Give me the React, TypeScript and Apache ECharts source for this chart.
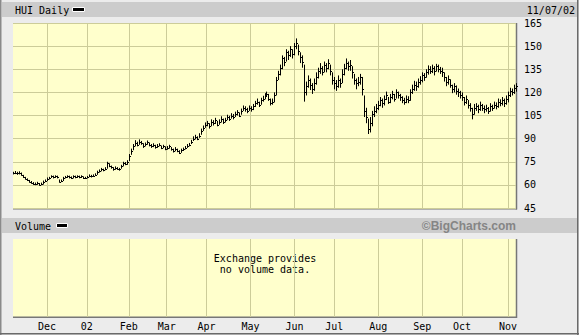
import React, { useEffect, useRef } from "react";
import * as echarts from "echarts";

// Trading-day indices where each month begins, with their labels
const monthStarts = [17, 37, 58, 77, 97, 119, 141, 161, 183, 205, 225, 248];
const monthLabels = ["Dec", "02", "Feb", "Mar", "Apr", "May", "Jun", "Jul", "Aug", "Sep", "Oct", "Nov"];

const yTicks = { min: 45, max: 165, interval: 15 };

const closes = [
  67.5, 68, 67.5, 68, 66.5, 65, 64, 63, 62, 61.5,
  60.5, 60.5, 61, 60, 60.5, 62, 62.5, 64, 64.5, 65.5,
  65, 65.5, 65, 62, 62.5, 64.5, 65, 65.5, 65, 64.5,
  65.5, 65, 65.5, 65, 65.5, 64.5, 64.5, 65, 66, 65.5,
  66, 66.5, 68.5, 69, 70, 69.5, 70.5, 74, 72, 71.5,
  70, 71, 70.5, 70, 72, 74, 73.5, 75, 79, 82,
  85, 87, 86, 88, 87, 85, 86.5, 87.5, 86, 85,
  86, 84.5, 85.5, 86, 84, 85, 83.5, 84, 85, 83,
  82, 83.5, 82, 81, 82.5, 83, 84, 85.5, 86, 88,
  90, 91, 90, 92, 95, 97, 99, 100, 98, 101,
  100, 102, 99, 101, 103, 101, 102, 104, 103, 105,
  104, 106, 107, 105, 108, 110, 109, 108, 110, 109,
  111, 113, 114, 112, 115, 116, 118, 119, 116, 113,
  114, 118, 128, 132, 136, 142, 140, 146, 144, 148,
  145, 150, 152, 147, 143, 140, 120, 124, 128, 125,
  122, 126, 130, 134, 136, 133, 138, 136, 139, 134,
  128, 126, 124, 128, 126, 132, 136, 139, 137, 138,
  133, 128, 126, 127, 130, 122, 108, 104, 96, 100,
  106, 108, 110, 112, 115, 113, 116, 118, 114, 117,
  119, 116, 120, 118, 117, 115, 114, 116, 115, 120,
  122, 125, 124, 127, 128, 131, 130, 133, 135, 134,
  136, 134, 137, 135, 134, 133, 130, 127, 129, 125,
  122, 124, 121, 120, 118, 117, 114, 116, 112, 110,
  106, 110, 111, 109, 112, 110, 109, 110, 108, 111,
  110, 112, 111, 114, 113, 115, 113, 116, 118, 121,
  120, 123, 124,
];

const highs = [
  68.5, 69, 68.5, 68.8, 68, 66.5, 65.2, 64.2, 63.2, 62.5,
  61.8, 61.5, 62, 61.2, 61.5, 62.8, 63.5, 64.8, 65.2, 66.2,
  66, 66.2, 66, 63.5, 63.5, 65.2, 65.8, 66.2, 66, 65.5,
  66.2, 66, 66.2, 66, 66.2, 65.5, 65.2, 65.8, 66.8, 66.5,
  66.8, 67.5, 69.2, 70, 71, 70.5, 71.5, 75, 74, 72.5,
  71.5, 72, 71.5, 71, 73, 75, 74.8, 76, 80, 83.5,
  86.5, 89, 88, 89.5, 88.5, 87, 87.5, 88.8, 87.5, 86.5,
  87, 86, 86.5, 87, 85.5, 86, 85, 85.2, 86, 84.5,
  83.5, 84.5, 83.5, 82.5, 83.5, 84.2, 85.2, 86.5, 87.2, 89.2,
  91.5, 92.5, 91.5, 93.5, 96.5, 98.5, 100.5, 101.5, 100, 102.5,
  102, 103.5, 101.5, 102.5, 104.5, 103, 103.5, 105.5, 104.8, 106.5,
  106, 107.5, 108.5, 107, 109.5, 111.5, 111, 110, 111.5, 111,
  112.5, 114.5, 116, 114, 116.5, 117.8, 119.5, 120.5, 119, 116,
  116, 120, 130, 134, 138, 144, 143, 148, 147, 150,
  148, 152, 155, 151, 146, 144, 138, 127, 131, 129,
  126, 129, 133, 136, 139, 137, 140, 139, 141.5, 138,
  133, 130, 128, 131, 129, 135, 138.5, 142, 140, 141,
  137, 132, 129, 130, 132, 130, 118, 110, 103, 104,
  108, 111, 112.5, 114.5, 117, 116, 118, 120.5, 117, 119,
  121, 119, 122, 120.5, 119, 117.5, 116.5, 118, 117.5, 122,
  125, 127.5, 127, 129, 130.5, 133, 132.5, 135, 137.5, 137,
  138, 137, 138.5, 138, 136.5, 136, 133, 130, 131, 128.5,
  125, 126, 124.5, 122.5, 121, 120, 117, 118, 115, 113,
  110, 112.5, 113, 112, 114, 112.5, 111.5, 112, 110.5, 113,
  112, 114, 113.5, 116, 115.5, 117, 116, 118, 120.5, 123,
  122.5, 125, 126,
];

const lows = [
  66.8, 67, 66.5, 66.8, 66, 64.5, 63.5, 62.5, 61.5, 60.8,
  60, 59.8, 60, 59.5, 59.8, 60.2, 61.8, 62.5, 63.5, 64.5,
  64.2, 64.5, 64.2, 61.5, 61.8, 62.5, 64.2, 64.5, 64.2, 63.8,
  64.2, 64.3, 64.5, 64.3, 64.5, 63.8, 63.8, 64.2, 65, 64.8,
  65.2, 65.8, 66.5, 68, 68.8, 68.8, 69.5, 70.5, 71.5, 70.5,
  69.2, 69.8, 69.8, 69.2, 70.5, 72, 72.8, 73, 75.5, 79.5,
  82.5, 85, 85, 86, 86, 84, 85, 86, 85, 84,
  84.5, 83.5, 84, 85, 83.2, 83.8, 82.5, 82.8, 83.5, 82.2,
  81, 81.8, 81.2, 80, 80.8, 82, 83, 84, 85, 86.5,
  88.5, 89.5, 89, 90.5, 92.5, 95, 97, 98, 96.5, 98,
  98.5, 99.5, 98, 99, 100.5, 99.5, 100.5, 102, 101.5, 103,
  102.5, 104, 105, 104, 105.5, 108, 107.5, 106.5, 108, 107.5,
  108.5, 110.5, 112, 110.5, 112, 114, 115.5, 117, 114.5, 111.5,
  112, 113.5, 118, 128, 131, 135, 137, 140, 141, 143,
  142, 144, 148, 144, 139, 136, 114, 118, 123, 121.5,
  119, 121, 125, 129, 132, 131, 133, 133, 135, 131,
  125, 122, 121, 123, 123, 126, 131, 135, 134, 134,
  129, 125, 122, 124, 125, 118, 104, 100, 93, 94,
  98, 104, 106.5, 108.5, 111, 110, 111.5, 115, 112.5, 113,
  115.5, 114, 116, 116, 114.5, 113, 112, 113, 113, 114.5,
  119, 121, 121, 123, 125, 126.5, 127.5, 129.5, 131.5, 132,
  132.5, 131, 133.5, 133, 132, 130, 127, 124, 125, 123,
  119.5, 120, 118.5, 117, 116, 114.5, 111.5, 112.5, 109.5, 107.5,
  102.5, 105.5, 108, 106.5, 108, 108, 106.5, 107.5, 106, 107.5,
  108, 109.5, 109, 110, 111, 111.5, 110.5, 112, 113.5, 117,
  118, 119, 120.5,
];

const MONO = "'DejaVu Sans Mono', monospace";
const GRID_COLOR = "#cccc99";
const PLOT_BG = "#ffffcc";

export default function App() {
  const ref = useRef<HTMLDivElement>(null);

  useEffect(() => {
    if (!ref.current) return;
    const chart = echarts.init(ref.current, undefined, { renderer: "svg" });

    const dayIndex = closes.map((_, i) => String(i));
    const barData = closes.map((c, i) => [i, highs[i], lows[i], c]);
    const isMonthStart = (i: number) => monthStarts.indexOf(i) >= 0;

    const xBase = {
      type: "category",
      data: dayIndex,
      boundaryGap: false,
      axisLine: { show: false },
      axisTick: { show: false },
      splitLine: { show: true, interval: (i: number) => isMonthStart(i), lineStyle: { color: GRID_COLOR, width: 1 } },
    };

    const option: any = {
      animation: false,
      backgroundColor: "#ececec",
      textStyle: { fontFamily: MONO },
      grid: [
        { left: 13, top: 23, width: 503, height: 185, show: true, backgroundColor: PLOT_BG, borderWidth: 0 },
        { left: 13, top: 239, width: 503, height: 78, show: true, backgroundColor: PLOT_BG, borderWidth: 0 },
      ],
      xAxis: [
        { ...xBase, gridIndex: 0, axisLabel: { show: false } },
        {
          ...xBase,
          gridIndex: 1,
          axisLabel: {
            show: true,
            interval: (i: number) => isMonthStart(i),
            formatter: (v: string) => {
              const k = monthStarts.indexOf(Number(v));
              return k >= 0 ? monthLabels[k] : "";
            },
            color: "#000",
            fontFamily: MONO,
            fontSize: 10,
            margin: 4,
          },
        },
      ],
      yAxis: [
        {
          type: "value",
          gridIndex: 0,
          position: "right",
          min: yTicks.min,
          max: yTicks.max,
          interval: yTicks.interval,
          axisLine: { show: false },
          axisTick: { show: false },
          axisLabel: { color: "#000", fontFamily: MONO, fontSize: 10, margin: 8 },
          splitLine: { show: true, lineStyle: { color: GRID_COLOR, width: 1 } },
        },
        { type: "value", gridIndex: 1, min: 0, max: 1, show: false, splitLine: { show: false } },
      ],
      series: [
        {
          type: "custom",
          xAxisIndex: 0,
          yAxisIndex: 0,
          data: barData,
          encode: { x: 0, y: [1, 2, 3] },
          renderItem: (params: any, api: any) => {
            const i = api.value(0);
            const hi = api.coord([i, api.value(1)]);
            const lo = api.coord([i, api.value(2)]);
            const cl = api.coord([i, api.value(3)]);
            const x = Math.round(hi[0]) + 0.5;
            const cy = Math.round(cl[1]) + 0.5;
            return {
              type: "group",
              children: [
                { type: "line", shape: { x1: x, y1: hi[1], x2: x, y2: lo[1] }, style: { stroke: "#000", lineWidth: 1 } },
                { type: "line", shape: { x1: x, y1: cy, x2: x + 1.5, y2: cy }, style: { stroke: "#000", lineWidth: 1 } },
              ],
            };
          },
        },
      ],
      graphic: [
        // outer frame
        { type: "line", shape: { x1: 0.75, y1: 0, x2: 0.75, y2: 335 }, style: { stroke: "#8a8a8a", lineWidth: 1.5 } },
        { type: "line", shape: { x1: 577.75, y1: 0, x2: 577.75, y2: 335 }, style: { stroke: "#6a6a6a", lineWidth: 1.5 } },
        { type: "line", shape: { x1: 0, y1: 333.75, x2: 579, y2: 333.75 }, style: { stroke: "#6a6a6a", lineWidth: 1.5 } },
        // header band
        { type: "rect", shape: { x: 2, y: 2, width: 575, height: 15 }, style: { fill: "#cccccc" } },
        { type: "text", x: 15, y: 10, style: { text: "HUI Daily", fill: "#000", font: `10px ${MONO}`, verticalAlign: "middle" } },
        { type: "rect", shape: { x: 72.5, y: 7.5, width: 12, height: 4 }, style: { fill: "#000", stroke: "#fff", lineWidth: 1 } },
        { type: "text", x: 575, y: 10, style: { text: "11/07/02", fill: "#000", font: `10px ${MONO}`, align: "right", verticalAlign: "middle" } },
        // main plot shadow edges
        { type: "line", shape: { x1: 516.5, y1: 23, x2: 516.5, y2: 209.5 }, style: { stroke: "#777", lineWidth: 1.5 } },
        { type: "line", shape: { x1: 13, y1: 208.75, x2: 517, y2: 208.75 }, style: { stroke: "#777", lineWidth: 1.5 } },
        // volume band
        { type: "rect", shape: { x: 2, y: 218, width: 575, height: 15 }, style: { fill: "#cccccc" } },
        { type: "text", x: 15, y: 226, style: { text: "Volume", fill: "#000", font: `10px ${MONO}`, verticalAlign: "middle" } },
        { type: "rect", shape: { x: 56.5, y: 223.5, width: 11, height: 4 }, style: { fill: "#000", stroke: "#fff", lineWidth: 1 } },
        { type: "text", x: 516, y: 226, style: { text: "©BigCharts.com", fill: "#858585", font: "bold 12px 'Liberation Sans', Arial, sans-serif", align: "right", verticalAlign: "middle" } },
        // volume plot shadow edges
        { type: "line", shape: { x1: 516.5, y1: 239, x2: 516.5, y2: 318 }, style: { stroke: "#777", lineWidth: 1.5 } },
        { type: "line", shape: { x1: 13, y1: 317.25, x2: 517, y2: 317.25 }, style: { stroke: "#777", lineWidth: 1.5 } },
        // no-volume message
        { type: "text", x: 265, y: 258, style: { text: "Exchange provides", fill: "#000", font: `10px ${MONO}`, align: "center", verticalAlign: "middle" } },
        { type: "text", x: 265, y: 269, style: { text: "no volume data.", fill: "#000", font: `10px ${MONO}`, align: "center", verticalAlign: "middle" } },
      ],
    };

    chart.setOption(option);
    return () => chart.dispose();
  }, []);

  return <div ref={ref} style={{ position: "fixed", left: 0, top: 0, width: 579, height: 335 }} />;
}
